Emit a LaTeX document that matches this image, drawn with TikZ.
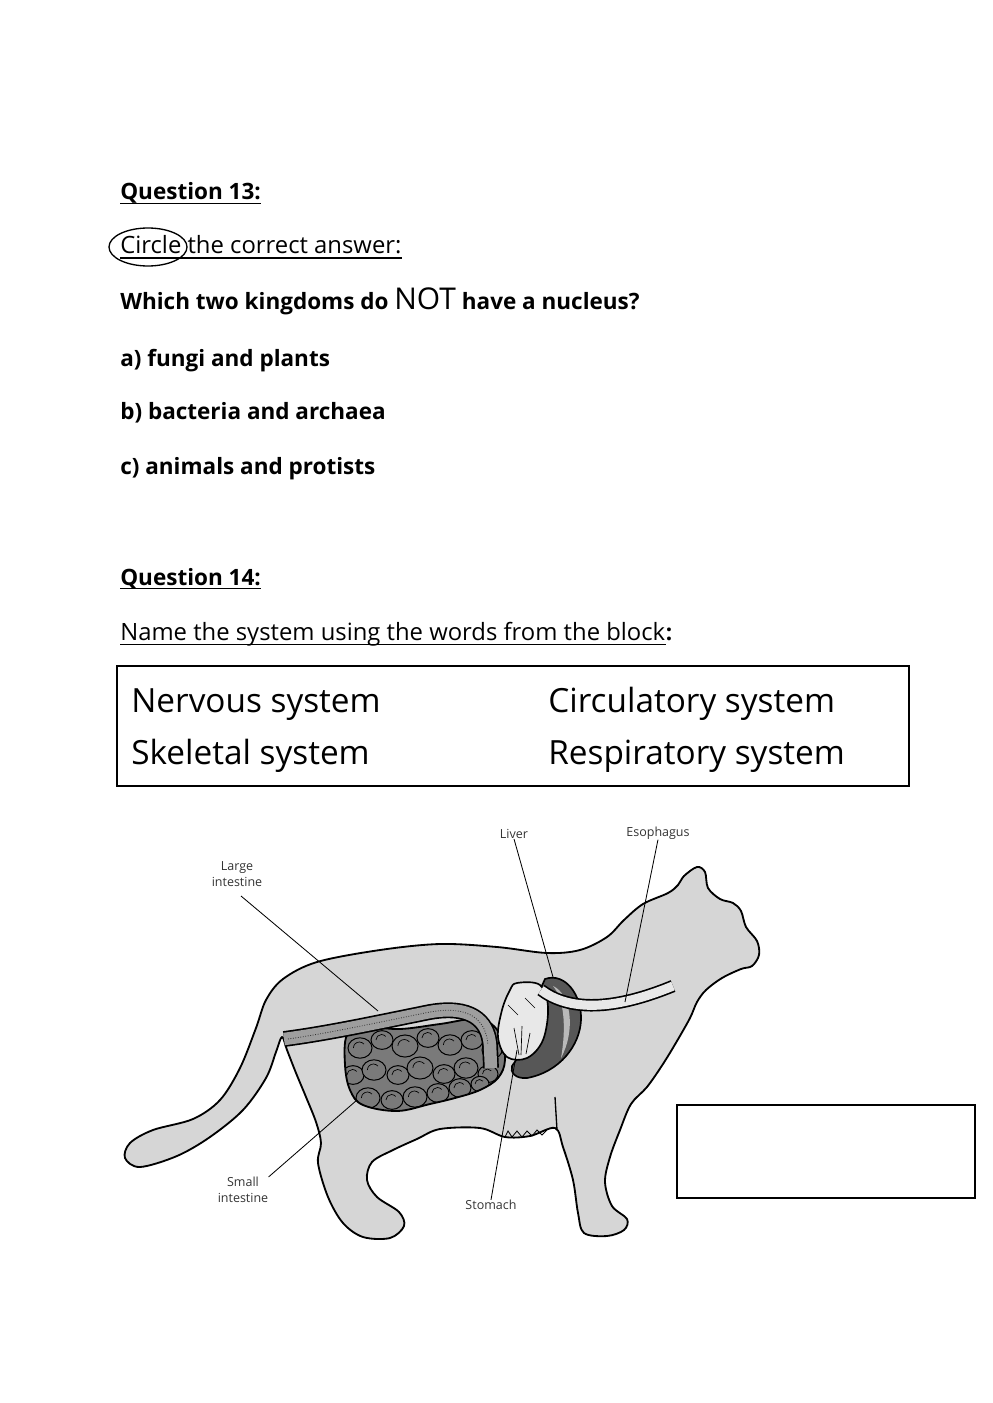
\documentclass[tikz,border=0pt]{standalone}
\usepackage{fontspec}
\setmainfont{Open Sans}
\usetikzlibrary{positioning}

\definecolor{catgray}{gray}{0.84}
\definecolor{coilgray}{gray}{0.48}
\definecolor{bowelgray}{gray}{0.62}
\definecolor{livergray}{gray}{0.34}
\definecolor{stomgray}{gray}{0.91}
\definecolor{labelgray}{gray}{0.2}

\tikzset{
  qtext/.style={anchor=base west,inner sep=0pt,font=\fontsize{14.3}{16}\selectfont},
  qbold/.style={anchor=base west,inner sep=0pt,font=\fontsize{13.5}{16}\selectfont\bfseries},
  sysword/.style={anchor=base west,inner sep=0pt,font=\fontsize{20}{24}\selectfont},
  organ/.style={inner sep=0pt,align=center,text=labelgray,font=\fontsize{7.5}{9.5}\selectfont},
  leader/.style={draw,line width=0.5pt},
  uline/.style={line width=0.8pt},
  coil/.style={draw,fill=coilgray,line width=0.6pt},
}

\begin{document}
\begin{tikzpicture}[x=0.6pt,y=-0.6pt]
  \useasboundingbox (0,0) rectangle (992,1403);

  % question 13
  \node[qbold] (q13) at (120,200) {Question 13:};
  \draw[uline] ([yshift=-2pt]q13.base west) -- ([yshift=-2pt]q13.base east);
  \node[qtext] (circ) at (120,254) {Circle the correct answer:};
  \draw[uline] ([yshift=-2.5pt]circ.base west) -- ([yshift=-2.5pt]circ.base east);
  \draw[line width=0.8pt] (148,247) ellipse [x radius=39, y radius=19];
  \node[qbold] (ask) at (120,310) {Which two kingdoms do {\fontsize{18}{20}\selectfont\mdseries NOT} have a nucleus?};
  \node[qbold] (ansa) at (120,366) {a) fungi and plants};
  \node[qbold] (ansb) at (120,420) {b) bacteria and archaea};
  \node[qbold] (ansc) at (120,474) {c) animals and protists};

  % question 14
  \node[qbold] (q14) at (120,585) {Question 14:};
  \draw[uline] ([yshift=-2pt]q14.base west) -- ([yshift=-2pt]q14.base east);
  \node[qtext] (task) at (120,640) {Name the system using the words from the block};
  \node[qbold,anchor=base west] (colon) at (task.base east) {:};
  \draw[uline] ([yshift=-2.5pt]task.base west) -- ([yshift=-2.5pt]task.base east);

  % word block
  \draw[line width=1pt] (117,666) rectangle (909,786);
  \node[sysword] (nerv) at (131,712) {Nervous system};
  \node[sysword] (circu) at (548,712) {Circulatory system};
  \node[sysword] (skel) at (131,764) {Skeletal system};
  \node[sysword] (resp) at (548,764) {Respiratory system};

  % cat body
  \draw[fill=catgray,line width=1.1pt,line join=round] plot[smooth cycle,tension=0.55] coordinates {
    (125,1158) (130,1143) (153,1130) (193,1119) (220,1100) (240,1068) (256,1028)
    (266,1000) (283,979) (317,962) (380,950) (440,944) (497,947) (547,953) (580,950)
    (607,937) (624,920) (643,904) (668,893) (678,885) (684,876) (697,867) (705,872)
    (708,888) (720,899) (733,903) (741,911) (746,927) (757,941) (759,955) (752,966)
    (741,969) (722,978) (706,990) (697,1002) (690,1018) (677,1041) (663,1064)
    (647,1087) (631,1104) (620,1130) (610,1157) (605,1182) (612,1206) (627,1219)
    (624,1230) (607,1236) (584,1233) (578,1213) (573,1180) (563,1147) (555,1128)
    (530,1136) (505,1137) (480,1128) (440,1129) (417,1139) (393,1150) (372,1162)
    (367,1180) (377,1197) (399,1212) (404,1226) (390,1238) (363,1237) (343,1223)
    (328,1197) (318,1163) (321,1143) (316,1122) (306,1097) (296,1073) (287,1050)
    (282,1037) (276,1052) (266,1078) (243,1110) (210,1137) (177,1156) (140,1167)};
  \draw[line width=0.8pt] (555,1097) -- (557,1130);
  \draw[line width=0.5pt] (505,1137) -- (508,1131) -- (512,1137) -- (517,1131) -- (522,1137)
    -- (527,1131) -- (532,1136) -- (537,1130) -- (542,1135) -- (547,1130);

  % small intestine
  \begin{scope}
    \path[clip] plot[smooth cycle,tension=0.6] coordinates {
      (347,1035) (365,1027) (400,1029) (440,1024) (480,1019) (500,1034) (505,1060)
      (498,1078) (480,1090) (455,1098) (430,1104) (397,1111) (363,1105) (350,1090) (345,1065)};
    \fill[coilgray] (340,1015) rectangle (510,1115);
    \foreach \cx/\cy/\r in {360/1048/12,382/1040/11,405/1046/13,428/1038/11,450/1045/12,472/1040/11,492/1050/10,
                            353/1075/11,374/1070/12,398/1075/11,420/1068/13,444/1074/11,466/1068/12,488/1074/10,
                            368/1098/12,392/1100/11,415/1097/12,438/1093/11,460/1088/11,480/1084/9}
    {
      \path[coil] (\cx,\cy) ellipse [x radius=\r, y radius=0.85*\r];
      \draw[line width=0.4pt] (\cx,\cy) ++(-0.55*\r,0) arc[start angle=180,end angle=320,radius=0.5*\r];
    }
  \end{scope}
  \draw[line width=1.1pt] plot[smooth cycle,tension=0.6] coordinates {
      (347,1035) (365,1027) (400,1029) (440,1024) (480,1019) (500,1034) (505,1060)
      (498,1078) (480,1090) (455,1098) (430,1104) (397,1111) (363,1105) (350,1090) (345,1065)};

  % large intestine
  \draw[line width=9.5pt] (284,1039) .. controls (330,1033) and (380,1022) .. (430,1012)
    .. controls (470,1005) and (488,1020) .. (490,1045) -- (491,1068);
  \draw[bowelgray,line width=7.5pt] (284,1039) .. controls (330,1033) and (380,1022) .. (430,1012)
    .. controls (470,1005) and (488,1020) .. (490,1045) -- (491,1068);
  \draw[gray!40!black,densely dotted,line width=0.5pt] (288,1039) .. controls (330,1033) and (380,1022) .. (430,1012)
    .. controls (470,1005) and (486,1020) .. (488,1045);

  % liver
  \draw[fill=livergray,line width=1pt] (545,979) .. controls (565,972) and (582,995) .. (581,1020)
    .. controls (580,1045) and (560,1072) .. (527,1078) .. controls (515,1079) and (510,1072) .. (512,1066)
    -- (530,1040) -- (540,990) -- cycle;
  \fill[gray!55] (553,986) .. controls (571,994) and (576,1030) .. (561,1058)
    .. controls (566,1030) and (565,1000) .. (553,986);

  % stomach
  \draw[fill=stomgray,line width=1pt] plot[smooth cycle,tension=0.6] coordinates {
    (517,983) (540,985) (548,1007) (543,1040) (527,1058) (507,1057) (498,1037) (502,1010) (510,990)};
  \draw[line width=0.4pt] (514,1028) -- (519,1055) (522,1026) -- (521,1055) (530,1033) -- (526,1054)
    (508,1005) -- (518,1015) (525,998) -- (535,1008);

  % esophagus
  \draw[line width=7.5pt] (541,990) .. controls (565,1008) and (605,1014) .. (673,986);
  \draw[stomgray,line width=5.5pt] (541,990) .. controls (565,1008) and (605,1014) .. (673,986);

  % labels and leader lines
  \node[organ] (large) at (237,874) {Large\\intestine};
  \node[organ] (small) at (243,1190) {Small\\intestine};
  \node[organ] (liver) at (514,834) {Liver};
  \node[organ] (eso) at (658,833) {Esophagus};
  \node[organ] (stom) at (491,1205) {Stomach};

  \coordinate (largept) at (378,1011);
  \coordinate (smallpt) at (357,1100);
  \coordinate (liverpt) at (553,977);
  \coordinate (esopt) at (625,1002);
  \coordinate (stompt) at (517,1050);

  \path[leader] (241,896) -- (largept);
  \path[leader] (small.north east) -- (smallpt);
  \path[leader] (liver.south) -- (liverpt);
  \path[leader] (eso.south) -- (esopt);
  \path[leader] (stom.north) -- (stompt);

  % answer box
  \draw[line width=0.8pt] (677,1105) rectangle (975,1198);
\end{tikzpicture}
\end{document}
